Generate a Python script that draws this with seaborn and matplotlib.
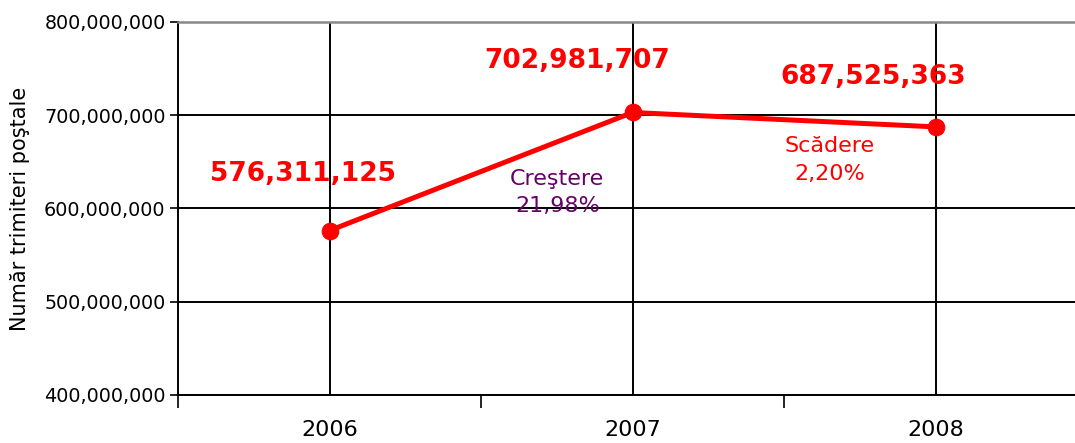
import matplotlib
matplotlib.use("Agg")
import matplotlib.pyplot as plt
import matplotlib.ticker as mticker
import numpy as np
import pandas as pd
import seaborn as sns

# data
years = ["2006", "2007", "2008"]
volumes = [576311125, 702981707, 687525363]
change_labels = ["Creştere\n21,98%", "Scădere\n2,20%"]

df = pd.DataFrame({"An": years, "Trimiteri": volumes})

sns.set_theme(style="white")
plt.rcParams["font.family"] = ["DejaVu Sans"]

fig = plt.figure(figsize=(10.75, 4.43), dpi=100)
# plot area runs a little past the right edge, as in the original
ax = fig.add_axes([178 / 1075, 48 / 443, 909 / 1075, 373 / 443])

sns.lineplot(data=df, x="An", y="Trimiteri", ax=ax, color="#ff0000",
             linewidth=3.6, marker="o", markersize=12,
             markeredgecolor="#ff0000", zorder=5)

ax.set_xlim(-0.5, 2.5)
ax.set_ylim(400_000_000, 800_000_000)
ax.yaxis.set_major_locator(mticker.MultipleLocator(100_000_000))
ax.yaxis.set_major_formatter(mticker.FuncFormatter(lambda v, p: f"{v:,.0f}"))

ax.set_xticks(range(len(years)))
ax.set_xticklabels(years)
ax.set_xticks(np.arange(-0.5, len(years), 1.0), minor=True)
ax.tick_params(axis="x", which="major", length=0, labelsize=16, pad=18,
               colors="black")
ax.tick_params(axis="x", which="minor", length=9, width=1.2, direction="out",
               color="black", bottom=True)
ax.tick_params(axis="y", which="major", length=6, width=1.2, direction="out",
               labelsize=13.8, left=True, colors="black", pad=3)

ax.grid(True, axis="both", which="major", color="black", linewidth=1.4)
for side in ["left", "bottom"]:
    ax.spines[side].set_color("black")
    ax.spines[side].set_linewidth(1.4)
ax.spines["top"].set_color("#888888")
ax.spines["top"].set_linewidth(1.8)
ax.spines["right"].set_visible(False)

ax.set_xlabel("")
ax.set_ylabel("Număr trimiteri poştale", fontsize=15, labelpad=10,
              color="black")

# value labels above the points
offsets = [(-19, 41), (-40, 37), (-45, 36)]
for i, (v, off) in enumerate(zip(volumes, offsets)):
    ax.annotate(f"{v:,}", xy=(i, v), xytext=off, textcoords="offset points",
                ha="center", va="center", fontsize=19, fontweight="bold",
                color="#ff0000")

ax.text(0.752, 617_000_000, change_labels[0], ha="center", va="center",
        fontsize=16, color="#660066", linespacing=1.45, multialignment="center")
ax.text(1.65, 652_000_000, change_labels[1], ha="center", va="center",
        fontsize=16, color="#ff0000", linespacing=1.55, multialignment="center")

fig.savefig("out.png", dpi=100)
